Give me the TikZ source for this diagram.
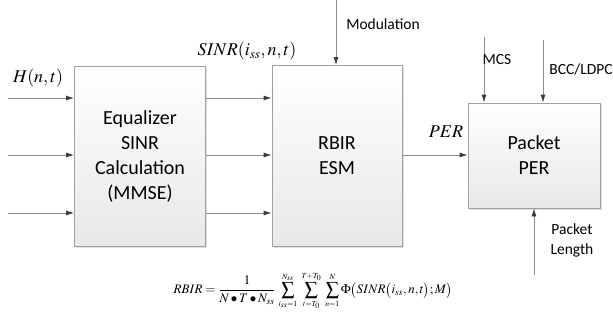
\documentclass[tikz,border=0pt]{standalone}
\usepackage{mathptmx}
\usepackage{fontspec}
\setmainfont{Carlito}
\usetikzlibrary{arrows.meta,shadows}
\definecolor{boxborder}{HTML}{A0A0A0}
\definecolor{boxbot}{HTML}{E8E8E8}
\definecolor{linegray}{HTML}{8C8C8C}
\definecolor{tipgray}{HTML}{3C3C3C}
\begin{document}
\begin{tikzpicture}[x=1pt,y=-1pt,
 blk/.style={draw=boxborder, top color=white, bottom color=boxbot, line width=0.8pt,
   drop shadow={shadow xshift=1.5pt, shadow yshift=-1.5pt, opacity=0.25},
   align=center, font=\fontsize{20}{25}\selectfont, inner sep=0pt},
 arr/.style={draw=linegray, line width=0.8pt, -{Latex[length=8pt,width=5pt,color=tipgray]}},
 lab/.style={font=\fontsize{15.5}{19}\selectfont, inner sep=0pt},
 mlab/.style={font=\fontsize{18}{20}\selectfont, inner sep=0pt}]
\useasboundingbox (0,0) rectangle (613,322);
\node[blk, minimum width=131pt, minimum height=180pt] (eq) at (140,156) {Equalizer\\SINR\\Calculation\\(MMSE)};
\node[blk, minimum width=130pt, minimum height=181pt] (rb) at (337,156) {RBIR\\ESM};
\node[blk, minimum width=132pt, minimum height=105pt] (pk) at (534,155.5) {Packet\\PER};
\coordinate (h1) at (8,98);
\coordinate (h2) at (8,155);
\coordinate (h3) at (8,213);
\foreach \c in {h1,h2,h3}{
  \draw[arr] (\c) -- (\c -| eq.west);
  \draw[arr] (eq.east |- \c) -- (rb.west |- \c);
}
\coordinate (mo) at (336,0);
\draw[arr] (mo) -- (mo |- rb.north);
\coordinate (mc) at (484,37);
\draw[arr] (mc) -- (mc |- pk.north);
\coordinate (bc) at (543,40);
\draw[arr] (bc) -- (bc |- pk.north);
\draw[arr] (rb.east |- h2) -- (pk.west |- h2);
\coordinate (pl) at (534,275);
\draw[arr] (pl) -- (pl |- pk.south);
\node[mlab] (hl) at (38,78) {$H(n,t)$};
\node[mlab] (sl) at (247,51) {$SINR(i_{ss},n,t)$};
\node[mlab] (perl) at (446,132) {$PER$};
\node[lab] (ml) at (383,24) {Modulation};
\node[lab] (mcl) at (497,60) {MCS};
\node[lab] (bl) at (581,69) {BCC/LDPC};
\node[lab, align=center, font=\fontsize{15.5}{20}\selectfont] (pll) at (572,240) {Packet\\Length};
\node[inner sep=0pt, font=\fontsize{13}{15}\selectfont] (fm) at (313,291)
 {$\displaystyle RBIR=\frac{1}{N\bullet T\bullet N_{ss}}\,
  \sum_{\scriptscriptstyle i_{ss}=1}^{\scriptscriptstyle N_{ss}}\;
  \sum_{\scriptscriptstyle t=T_0}^{\scriptscriptstyle T+T_0}\;
  \sum_{\scriptscriptstyle n=1}^{\scriptscriptstyle N}\Phi\bigl(SINR\bigl(i_{ss},n,t\bigr);M\bigr)$};
\end{tikzpicture}
\end{document}
